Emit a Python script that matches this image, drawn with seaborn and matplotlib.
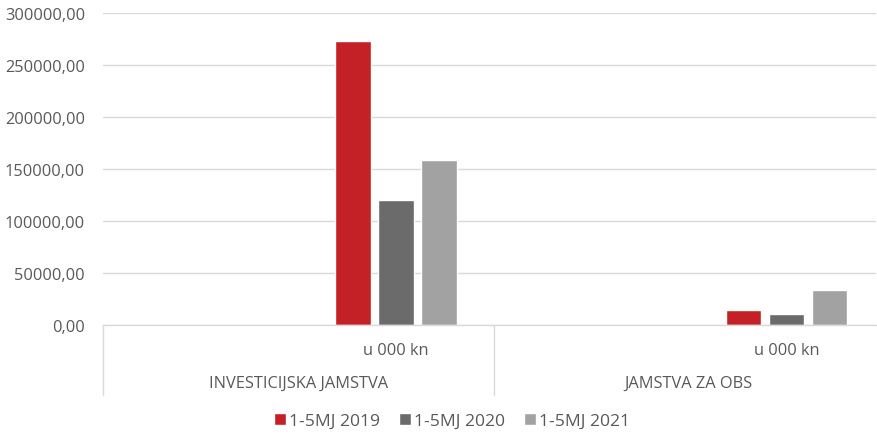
import pandas as pd
import matplotlib.pyplot as plt
import seaborn as sns
from matplotlib.ticker import FuncFormatter
import matplotlib.transforms as mtransforms

# Data
groups = ["INVESTICIJSKA JAMSTVA", "JAMSTVA ZA OBS"]
units = ["", "u 000 kn"]
series = ["1-5MJ 2019", "1-5MJ 2020", "1-5MJ 2021"]
values_2019 = [272800, 14400]
values_2020 = [119900, 10600]
values_2021 = [159000, 33300]
colors = ["#C42126", "#6B6B6B", "#A2A2A2"]

# Build long table; the blank sub-category slots stay empty
rows = []
for s, vals in zip(series, [values_2019, values_2020, values_2021]):
    for g, v in zip(groups, vals):
        rows.append({"cat": g + "|u 000 kn", "series": s, "value": v})
data = pd.DataFrame(rows)
order = [g + "|" + u for g in groups for u in units]

sns.set_theme(style="white")
plt.rcParams['font.family'] = ['Open Sans', 'DejaVu Sans']
text_color = "#595959"
grid_color = "#D9D9D9"
fs = 11.8

fig = plt.figure(figsize=(8.77, 4.35), dpi=100)
W, H = 877, 435
ax = fig.add_axes([103 / W, (H - 326) / H, (876 - 103) / W, (326 - 14) / H])

sns.barplot(data=data, x="cat", y="value", hue="series", order=order,
            hue_order=series, palette=colors, width=0.66, gap=0.17,
            errorbar=None, ax=ax, saturation=1)

ax.set_ylim(0, 300000)
ax.set_xlim(-0.5, 3.5 - 8 / 195)
ax.set_yticks(range(0, 300001, 50000))
ax.yaxis.set_major_formatter(FuncFormatter(lambda v, p: f"{v:.2f}".replace(".", ",")))
ax.grid(axis="y", color=grid_color, linewidth=1)
ax.set_axisbelow(True)
for side in ["left", "right", "top"]:
    ax.spines[side].set_visible(False)
ax.spines["bottom"].set_color(grid_color)
ax.spines["bottom"].set_linewidth(1)
ax.set_xlabel("")
ax.set_ylabel("")
ax.tick_params(axis="y", length=0, pad=13, labelsize=fs, labelcolor=text_color)
ax.tick_params(axis="x", length=0, pad=12, labelsize=fs, labelcolor=text_color)
ax.set_xticks(range(len(order)))
ax.set_xticklabels([c.split("|")[1] for c in order])

# Outer category labels and separators
trans = mtransforms.blended_transform_factory(ax.transData, ax.transAxes)
for i, g in enumerate(groups):
    ax.text(i * 2 + 0.5, -(384 - 326) / 312, g, transform=trans, ha="center",
            va="center", fontsize=fs, color=text_color)
for xb in [-0.5, 1.5, 3.5]:
    ax.plot([xb, xb], [0, -(396 - 326) / 312], transform=trans, color=grid_color,
            linewidth=1, clip_on=False)

sns.move_legend(ax, "center", bbox_to_anchor=(452 / W, (H - 422) / H),
                bbox_transform=fig.transFigure, ncol=3, frameon=False, title=None,
                fontsize=12.6, handlelength=0.7, handleheight=0.7,
                handletextpad=0.15, columnspacing=1.1, labelcolor=text_color)

plt.savefig("out.png", dpi=100)
plt.close()
